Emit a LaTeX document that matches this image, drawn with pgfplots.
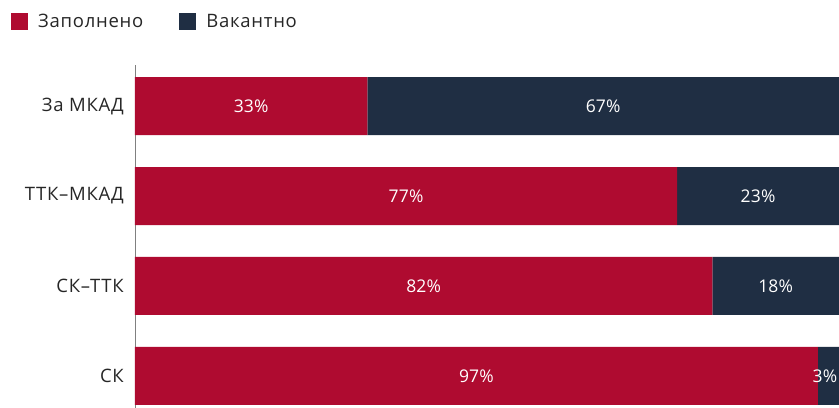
\documentclass[border=0pt]{standalone}
\usepackage{pgfplots}
\usepackage{pgfplotstable}
\pgfplotsset{compat=1.18}
\usepackage{fontspec}
\setmainfont[LetterSpace=4]{Open Sans}
\newfontfamily\numfont[LetterSpace=1]{Open Sans}
\definecolor{cred}{HTML}{AF0B30}
\definecolor{cnavy}{HTML}{1F2E43}
\newcommand\f{\fontsize{18.5bp}{21bp}\selectfont}
\newcommand\fn{\numfont\fontsize{17.5bp}{21bp}\selectfont}
\pgfplotstableread{
cat filled vacant
0 97 3
1 82 18
2 77 23
3 33 67
}\datatable
\begin{document}
\begin{tikzpicture}
\begin{axis}[
  scale only axis,
  width=704bp, height=343bp,
  at={(0,0)}, anchor=south west,
  xbar stacked,
  bar width=58bp,
  xmin=0, xmax=100,
  ymin=-0.356, ymax=3.456,
  axis x line=none,
  axis y line=left,
  axis line style={-, draw=black!50, line width=0.8bp},
  ytick={0,1,2,3},
  yticklabels={СК, СК–ТТК, ТТК–МКАД, За МКАД},
  major tick length=0pt,
  ytick style={draw=none},
  yticklabel style={font=\f, text=black!85, inner sep=0pt, xshift=-11bp},
  /pgf/number format/assume math mode=true,
  visualization depends on=rawx \as \rawx,
  nodes near coords={\pgfmathprintnumber{\pgfplotspointmeta}\%},
  every node near coord/.append style={font=\fn, text=white, anchor=center, inner sep=0pt,
    xshift={-3.5bp*(\rawx<5)}},
  legend columns=2,
  legend style={at={(-0.176,1.127)}, anchor=west, draw=none, fill=none, font=\f, text=black!85,
    inner sep=0pt, outer sep=0pt, nodes={inner sep=0pt},
    /tikz/every odd column/.append style={column sep=10bp},
    /tikz/every even column/.append style={column sep=36bp}},
  legend image code/.code={\fill[#1] (0bp,-8.5bp) rectangle (17bp,8.5bp);},
  clip=false,
]
\addplot[fill=cred, draw=none, point meta=\thisrow{filled}] table[x=filled, y=cat] {\datatable};
\addplot[fill=cnavy, draw=none, point meta=\thisrow{vacant}] table[x=vacant, y=cat] {\datatable};
\legend{Заполнено, Вакантно}
\end{axis}
\pgfresetboundingbox
\useasboundingbox (-135bp,0) rectangle (704bp,408bp);
\end{tikzpicture}
\end{document}
